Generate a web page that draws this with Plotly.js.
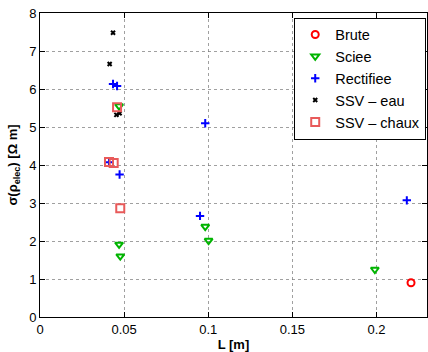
<!DOCTYPE html>
<html><head><meta charset="utf-8">
<script src="https://cdn.plot.ly/plotly-3.0.1.min.js"></script>
<style>body{margin:0;padding:0;background:#fff}#c{width:428px;height:352px}</style>
</head><body><div id="c"></div>
<script>
const seriesNames = ["Brute", "Sciee", "Rectifiee", "SSV \u2013 eau", "SSV \u2013 chaux"];
const bruteL = [0.2205];
const bruteS = [0.90];
const scieeL = [0.047, 0.047, 0.0477, 0.0982, 0.1002, 0.199];
const scieeS = [5.55, 1.91, 1.60, 2.38, 2.01, 1.25];
const rectL = [0.0434, 0.0458, 0.0473, 0.041, 0.0951, 0.0982, 0.218];
const rectS = [6.13, 6.08, 3.75, 4.07, 2.66, 5.10, 3.07];
const eauL = [0.0434, 0.0414, 0.0454, 0.0473];
const eauS = [7.48, 6.66, 5.32, 5.36];
const chauxL = [0.0458, 0.041, 0.0438, 0.0477];
const chauxS = [5.52, 4.08, 4.05, 2.86];
const xTicks = [0, 0.05, 0.1, 0.15, 0.2];
const yTicks = [0, 1, 2, 3, 4, 5, 6, 7, 8];

const traces = [
  {x: bruteL, y: bruteS, name: seriesNames[0], mode: 'markers', type: 'scatter',
   marker: {symbol: 'circle-open', size: 7, color: '#ff0000', line: {width: 2}}},
  {x: scieeL, y: scieeS, name: seriesNames[1], mode: 'markers', type: 'scatter',
   marker: {symbol: 'triangle-down-open', size: 7, color: '#00b400', line: {width: 2}}},
  {x: rectL, y: rectS, name: seriesNames[2], mode: 'markers', type: 'scatter',
   marker: {symbol: 'cross-thin-open', size: 6, color: '#0000ff', line: {width: 2}}},
  {x: eauL, y: eauS, name: seriesNames[3], mode: 'markers', type: 'scatter',
   marker: {symbol: 'x-thin-open', size: 4, color: '#000000', line: {width: 2}}},
  {x: chauxL, y: chauxS, name: seriesNames[4], mode: 'markers', type: 'scatter',
   marker: {symbol: 'square-open', size: 8, color: '#e85a5a', line: {width: 2}}}
];

const axisCommon = {
  showline: true, linecolor: '#000', linewidth: 1, mirror: 'ticks',
  ticks: 'inside', ticklen: 5, tickcolor: '#000',
  showgrid: true, gridcolor: '#777', griddash: 'dot', gridwidth: 0.7,
  zeroline: false, tickfont: {family: 'Liberation Sans, Arial, sans-serif', size: 13, color: '#000'}
};

const layout = {
  width: 428, height: 352,
  margin: {l: 40, r: 1, t: 13, b: 35},
  paper_bgcolor: '#fff', plot_bgcolor: '#fff',
  font: {family: 'Liberation Sans, Arial, sans-serif', color: '#000'},
  xaxis: Object.assign({}, axisCommon, {
    range: [0, 0.23], tickvals: xTicks, ticktext: xTicks.map(String),
    title: {text: '<b>L [m]</b>', font: {size: 13}, standoff: 6}
  }),
  yaxis: Object.assign({}, axisCommon, {
    range: [0, 8], tickvals: yTicks, ticktext: yTicks.map(String),
    title: {text: '<b>\u03c3(\u03c1<sub>elec</sub>) [\u03a9 m]</b>', font: {size: 13}, standoff: 8}
  }),
  showlegend: true,
  legend: {x: 0.998, y: 0.985, xanchor: 'right', yanchor: 'top',
    bgcolor: '#fff', bordercolor: '#000', borderwidth: 1,
    font: {size: 14.5, family: 'Liberation Sans, Arial, sans-serif'},
    tracegroupgap: 0, itemsizing: 'trace', itemwidth: 30}
};

Plotly.newPlot('c', traces, layout, {displayModeBar: false, staticPlot: true});
</script></body></html>
